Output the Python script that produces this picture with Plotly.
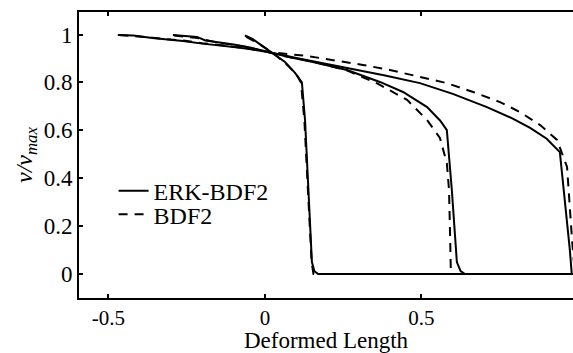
import plotly.graph_objects as go

# ---- data ----
# snapshot A (earliest)
erk_xa = [-0.064, -0.04, -0.022, 0.0, 0.026, 0.064, 0.096, 0.118, 0.128, 0.141, 0.150, 0.158, 0.17, 0.25, 1.05]
erk_ya = [0.996, 0.982, 0.965, 0.945, 0.923, 0.885, 0.84, 0.80, 0.643, 0.309, 0.05, 0.012, 0.0, 0.0, 0.0]
bdf_xa = [-0.06, -0.02, 0.026, 0.064, 0.1, 0.115, 0.126, 0.14, 0.149, 0.155, 0.165, 1.05]
bdf_ya = [0.99, 0.962, 0.922, 0.882, 0.835, 0.80, 0.64, 0.31, 0.05, 0.0, 0.0, 0.0]

# snapshot B
erk_xb = [-0.294, -0.25, -0.217, -0.19, -0.153, -0.1, -0.048, 0.026, 0.08, 0.153, 0.262, 0.367, 0.441, 0.518, 0.56, 0.581, 0.597, 0.613, 0.625, 0.639, 0.7, 1.05]
erk_yb = [0.998, 0.994, 0.99, 0.975, 0.969, 0.958, 0.946, 0.922, 0.905, 0.885, 0.852, 0.802, 0.760, 0.697, 0.64, 0.601, 0.35, 0.05, 0.012, 0.0, 0.0, 0.0]
bdf_xb = [-0.29, -0.25, -0.215, -0.19, -0.15, -0.1, -0.048, 0.026, 0.08, 0.153, 0.262, 0.36, 0.399, 0.454, 0.518, 0.559, 0.581, 0.588, 0.591, 0.594, 0.62, 1.05]
bdf_yb = [0.996, 0.99, 0.985, 0.978, 0.966, 0.957, 0.945, 0.921, 0.905, 0.887, 0.85, 0.795, 0.768, 0.727, 0.643, 0.568, 0.463, 0.351, 0.184, 0.0, 0.0, 0.0]

# snapshot C (latest)
erk_xc = [-0.47, -0.42, -0.36, -0.31, -0.262, -0.2, -0.153, -0.1, -0.048, 0.026, 0.1, 0.18, 0.262, 0.38, 0.495, 0.6, 0.709, 0.79, 0.847, 0.9, 0.942, 0.958, 0.974, 0.98, 1.05]
erk_yc = [0.998, 0.996, 0.985, 0.98, 0.973, 0.962, 0.956, 0.948, 0.939, 0.923, 0.902, 0.882, 0.86, 0.83, 0.797, 0.752, 0.697, 0.65, 0.61, 0.565, 0.509, 0.309, 0.1, 0.0, 0.0]
bdf_xc = [-0.465, -0.41, -0.36, -0.3, -0.26, -0.2, -0.15, -0.1, -0.048, 0.026, 0.137, 0.217, 0.313, 0.399, 0.495, 0.581, 0.665, 0.751, 0.815, 0.879, 0.933, 0.958, 0.965, 0.981, 0.99, 1.05]
bdf_yc = [0.998, 0.993, 0.987, 0.979, 0.975, 0.964, 0.955, 0.949, 0.94, 0.925, 0.91, 0.894, 0.873, 0.852, 0.823, 0.797, 0.760, 0.718, 0.676, 0.622, 0.56, 0.476, 0.447, 0.142, 0.0, 0.0]

legend_names = ["ERK-BDF2", "BDF2"]
x_ticks = [-0.5, 0, 0.5]
x_ticktext = ["-0.5", "0", "0.5"]
y_ticks = [0, 0.2, 0.4, 0.6, 0.8, 1]
y_ticktext = ["0", "0.2", "0.4", "0.6", "0.8", "1"]

FONT = "Liberation Serif, serif"

fig = go.Figure()
erk_sets = [(erk_xa, erk_ya), (erk_xb, erk_yb), (erk_xc, erk_yc)]
bdf_sets = [(bdf_xa, bdf_ya), (bdf_xb, bdf_yb), (bdf_xc, bdf_yc)]
for i, (xs, ys) in enumerate(erk_sets):
    fig.add_trace(go.Scatter(x=xs, y=ys, mode="lines", name=legend_names[0],
                             showlegend=(i == 0), legend="legend",
                             line=dict(color="black", width=2)))
for i, (xs, ys) in enumerate(bdf_sets):
    fig.add_trace(go.Scatter(x=xs, y=ys, mode="lines", name=legend_names[1],
                             showlegend=(i == 0), legend="legend2",
                             line=dict(color="black", width=2, dash="9px,7px")))

leg_common = dict(xanchor="left", yanchor="top", bgcolor="rgba(0,0,0,0)",
                  borderwidth=0, font=dict(family=FONT, size=24), itemwidth=30)
fig.update_layout(
    width=573, height=353,
    margin=dict(l=79, r=0, t=12, b=55),
    paper_bgcolor="white", plot_bgcolor="white",
    font=dict(family=FONT, size=22, color="black"),
    showlegend=True,
    legend=dict(x=0.07, y=0.452, **leg_common),
    legend2=dict(x=0.07, y=0.37, **leg_common),
)
fig.update_xaxes(
    range=[-0.594, 0.984], showgrid=False, zeroline=False,
    showline=True, linecolor="black", linewidth=2, mirror="ticks",
    ticks="inside", ticklen=4, tickwidth=2, tickcolor="black",
    tickvals=x_ticks, ticktext=x_ticktext,
    tickfont=dict(family=FONT, size=21),
    title=dict(text="Deformed Length", font=dict(family=FONT, size=23), standoff=2),
)
fig.update_yaxes(
    range=[-0.1, 1.094], showgrid=False, zeroline=False,
    showline=True, linecolor="black", linewidth=2,
    ticks="inside", ticklen=4, tickwidth=2, tickcolor="black",
    tickvals=y_ticks, ticktext=y_ticktext,
    tickfont=dict(family=FONT, size=23),
    title=dict(text="<i>ν/ν<sub>max</sub></i>", font=dict(family=FONT, size=24), standoff=4),
)

fig.write_html("out.html")
